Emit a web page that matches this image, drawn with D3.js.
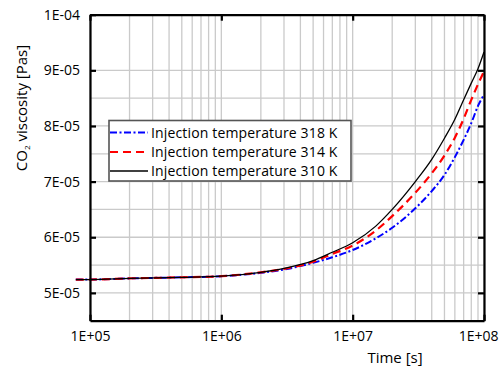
<!DOCTYPE html>
<html><head><meta charset="utf-8">
<script src="https://cdn.jsdelivr.net/npm/d3@7"></script>
<style>
body{margin:0;background:#fff;}
text{font-family:"Open Sans",sans-serif;}
</style></head>
<body><svg id="c" width="500" height="369"></svg>
<script>
// time [s]
const times = [7.8e4, 1e5, 2e5, 5e5, 1e6, 2e6, 3e6, 5e6, 7e6, 1e7, 1.5e7, 2e7, 3e7, 4e7, 5e7, 6e7, 7e7, 8e7, 9e7, 1e8];
// viscosity in units of 1E-05 Pa s
const visc318 = [5.24, 5.24, 5.26, 5.28, 5.30, 5.36, 5.42, 5.54, 5.64, 5.77, 5.98, 6.17, 6.52, 6.83, 7.12, 7.44, 7.75, 8.05, 8.36, 8.56];
const visc314 = [5.24, 5.24, 5.26, 5.28, 5.30, 5.37, 5.43, 5.56, 5.70, 5.85, 6.12, 6.38, 6.80, 7.15, 7.47, 7.79, 8.13, 8.47, 8.75, 8.98];
const visc310 = [5.24, 5.24, 5.26, 5.28, 5.30, 5.37, 5.44, 5.58, 5.73, 5.90, 6.20, 6.50, 7.00, 7.40, 7.78, 8.12, 8.47, 8.77, 9.03, 9.33];
const seriesNames = ["Injection temperature 318 K", "Injection temperature 314 K", "Injection temperature 310 K"];
const xTicks = [1e5, 1e6, 1e7, 1e8];
const yTicks = [5e-5, 6e-5, 7e-5, 8e-5, 9e-5, 1e-4];

const series = [
  {name: seriesNames[0], vals: visc318, color: "#0000ff", dash: "7,2.5,2,2.5", w: 2},
  {name: seriesNames[1], vals: visc314, color: "#ff0000", dash: "8,5", w: 2.2},
  {name: seriesNames[2], vals: visc310, color: "#000000", dash: null, w: 1.3}
];

const L = 90, R = 484, T = 14.7, B = 320.7;
const svg = d3.select("#c");
const x = d3.scaleLog().domain([1e5, 1e8]).range([L, R]);
const y = d3.scaleLinear().domain([4.5e-5, 1e-4]).range([B, T]);

function fmt(d){
  const e = Math.floor(Math.log10(d) + 1e-9);
  const m = Math.round(d / Math.pow(10, e));
  const ae = Math.abs(e);
  return m + "E" + (e < 0 ? "-" : "+") + (ae < 10 ? "0" : "") + ae;
}

// grid
const g = svg.append("g");
const xGrid = [];
for (let p = 5; p < 8; p++) for (let k = 1; k <= 9; k++) xGrid.push(k * Math.pow(10, p));
xGrid.push(1e8);
g.selectAll("line.vx").data(xGrid).enter().append("line")
  .attr("x1", d => x(d)).attr("x2", d => x(d)).attr("y1", T).attr("y2", B)
  .attr("stroke", "#cacaca").attr("stroke-width", 1.3);
const yGrid = d3.range(9).map(i => 5e-5 + i * 5e-6);
g.selectAll("line.hy").data(yGrid).enter().append("line")
  .attr("x1", L).attr("x2", R).attr("y1", d => y(d)).attr("y2", d => y(d))
  .attr("stroke", "#cacaca").attr("stroke-width", 1.3);

// lines
const line = d3.line().x((d, i) => x(times[i])).y(d => y(d * 1e-5)).curve(d3.curveMonotoneX);
series.forEach(s => {
  svg.append("path").datum(s.vals).attr("d", line)
    .attr("fill", "none").attr("stroke", s.color).attr("stroke-width", s.w)
    .attr("stroke-dasharray", s.dash);
});

// axes
function styleAxis(sel){
  sel.select(".domain").attr("stroke", "#000").attr("stroke-width", 2.2);
  sel.selectAll(".tick line").attr("stroke", "#000").attr("stroke-width", 2.2);
  sel.selectAll("text").attr("font-size", 14).attr("fill", "#000").attr("font-family", "Open Sans");
}
const ax = svg.append("g").attr("transform", `translate(0,${B})`)
  .call(d3.axisBottom(x).tickValues(xTicks).tickFormat(fmt).tickSizeInner(-6).tickSizeOuter(0).tickPadding(8));
styleAxis(ax);
ax.selectAll("text").attr("dy", "0.85em");
// last label pulled inside the window, as in the reference
ax.selectAll(".tick text").filter(d => d === 1e8).attr("text-anchor", "end").attr("x", 14);
const axT = svg.append("g").attr("transform", `translate(0,${T})`)
  .call(d3.axisTop(x).tickValues(xTicks).tickFormat("").tickSizeInner(-6).tickSizeOuter(0));
styleAxis(axT);
const ay = svg.append("g").attr("transform", `translate(${L},0)`)
  .call(d3.axisLeft(y).tickValues(yTicks).tickFormat(fmt).tickSizeInner(-6).tickSizeOuter(0).tickPadding(10));
styleAxis(ay);
const ayR = svg.append("g").attr("transform", `translate(${R},0)`)
  .call(d3.axisRight(y).tickValues(yTicks).tickFormat("").tickSizeInner(-6).tickSizeOuter(0));
styleAxis(ayR);

// axis titles
svg.append("text").attr("x", 395).attr("y", 363).attr("text-anchor", "middle")
  .attr("font-size", 15).text("Time [s]");
const yt = svg.append("text").attr("transform", "translate(27,108) rotate(-90)")
  .attr("text-anchor", "middle").attr("font-size", 15);
yt.append("tspan").text("CO");
yt.append("tspan").attr("font-size", 8).attr("dy", 3).text("2");
yt.append("tspan").attr("dy", -3).text(" viscosity [Pas]");

// legend
const lg = svg.append("g");
lg.append("rect").attr("x", 109).attr("y", 120.5).attr("width", 242).attr("height", 60.5)
  .attr("fill", "#fff").attr("stroke", "#555").attr("stroke-width", 1.6);
const rowY = [132.5, 152, 171];
series.forEach((s, i) => {
  lg.append("line").attr("x1", 110).attr("x2", 148).attr("y1", rowY[i]).attr("y2", rowY[i])
    .attr("stroke", s.color).attr("stroke-width", s.w).attr("stroke-dasharray", s.dash);
  lg.append("text").attr("x", 151).attr("y", rowY[i] + 5).attr("font-size", 14)
    .attr("letter-spacing", 0.15).text(s.name);
});
</script></body></html>
